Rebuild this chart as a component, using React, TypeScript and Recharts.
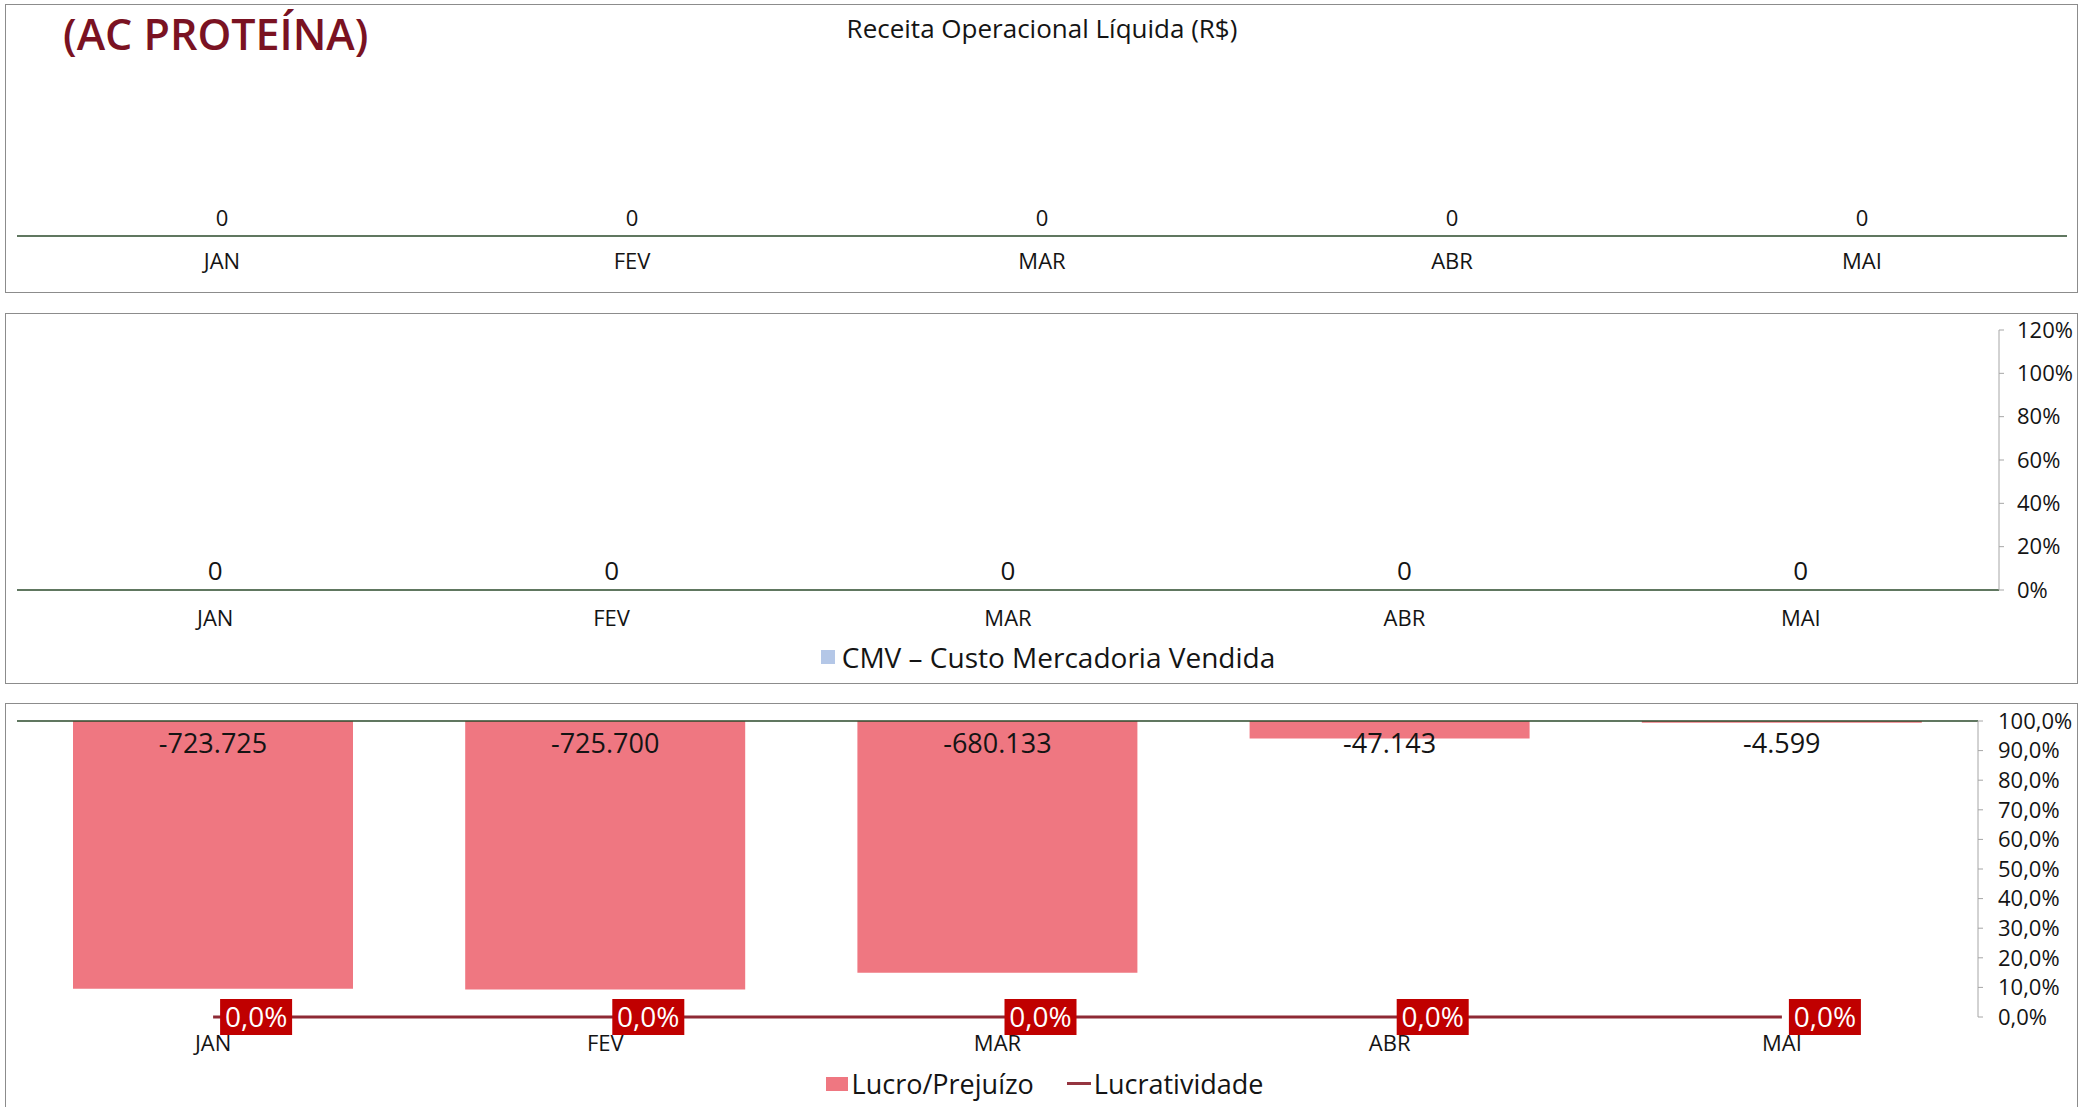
import React from 'react';
import { ComposedChart, Bar, Line, XAxis, YAxis, LabelList, Legend, ReferenceLine } from 'recharts';

const FONT = '"Open Sans", "Noto Sans", sans-serif';

// months shown in all three panels
const months: string[] = ['JAN', 'FEV', 'MAR', 'ABR', 'MAI'];

// Receita Operacional Líquida (R$)
const receita: number[] = [0, 0, 0, 0, 0];

// CMV – Custo Mercadoria Vendida
const cmv: number[] = [0, 0, 0, 0, 0];
const cmvPct: number[] = [0, 0, 0, 0, 0];
const cmvTicks: number[] = [0, 0.2, 0.4, 0.6, 0.8, 1.0, 1.2];

// Lucro/Prejuízo and Lucratividade
const lucro: number[] = [-723725, -725700, -680133, -47143, -4599];
const lucratividade: number[] = [0, 0, 0, 0, 0];
const lucTicks: number[] = [0, 0.1, 0.2, 0.3, 0.4, 0.5, 0.6, 0.7, 0.8, 0.9, 1.0];

const receitaData = months.map((m, i) => ({ mes: m, receita: receita[i] }));
const cmvData = months.map((m, i) => ({ mes: m, cmv: cmv[i], cmvPct: cmvPct[i] }));
const lucroData = months.map((m, i) => ({ mes: m, lucro: lucro[i], lucratividade: lucratividade[i] }));

const AXIS_GREEN = '#2B4A2B';
const GRAY = '#A6A6A6';
const TEXT = '#141414';

const fmtThousands = (v: number) => {
    const s = Math.abs(Math.round(v)).toString().replace(/\B(?=(\d{3})+(?!\d))/g, '.');
    return (v < 0 ? '-' : '') + s;
};
const fmtPct0 = (v: number) => `${Math.round(v * 100)}%`;
const fmtPct1 = (v: number) => (v * 100).toFixed(1).replace('.', ',') + '%';

const BarValueLabel = (props: any) => {
    const { x, y, width, height, value } = props;
    const top = Math.min(y, y + height);
    return (
        <text x={x + width / 2} y={top + 32} textAnchor="middle" fontSize={27} fontFamily={FONT} fill={TEXT}>
            {fmtThousands(value)}
        </text>
    );
};

// zero values sit on the axis, label drawn just above the point
const zeroLabel = (size: number) => (props: any) => {
    const { x, y, value } = props;
    return (
        <text x={x} y={y - 10} textAnchor="middle" fontSize={size} fontFamily={FONT} fill={TEXT}>
            {fmtThousands(value ?? 0)}
        </text>
    );
};
const ReceitaLabel = zeroLabel(22);
const CmvLabel = zeroLabel(26);

const PctBoxLabel = (props: any) => {
    const { x, y, value } = props;
    return (
        <g>
            <rect x={x + 7} y={y - 18} width={72} height={36} fill="#C00000" />
            <text x={x + 43} y={y + 10} textAnchor="middle" fontSize={28} fontFamily={FONT} fill="#FFFFFF">
                {fmtPct1(value)}
            </text>
        </g>
    );
};

const legendBase: React.CSSProperties = {
    height: 50,
    display: 'flex',
    justifyContent: 'center',
    alignItems: 'flex-end',
    fontFamily: FONT,
    fontSize: 27,
    lineHeight: '26px',
    color: TEXT,
};

const CmvLegend = () => (
    <div style={{ ...legendBase, fontSize: 28, paddingLeft: 20 }}>
        <span style={{ display: 'inline-block', width: 14, height: 14, background: '#B4C7E7', marginRight: 7, marginBottom: 6 }} />
        <span>CMV – Custo Mercadoria Vendida</span>
    </div>
);

const LucroLegend = () => (
    <div style={{ ...legendBase, paddingLeft: 24 }}>
        <span style={{ display: 'inline-block', width: 22, height: 14, background: '#EF7781', marginRight: 4, marginBottom: 6 }} />
        <span>Lucro/Prejuízo</span>
        <span style={{ display: 'inline-block', width: 24, height: 3, background: '#953540', marginLeft: 33, marginRight: 3, marginBottom: 12 }} />
        <span>Lucratividade</span>
    </div>
);

const panel = (top: number, height: number): React.CSSProperties => ({
    position: 'absolute',
    left: 5,
    top,
    width: 2073,
    height,
    border: '1px solid #8C8C8C',
    boxSizing: 'border-box',
});

export default function App() {
    return (
        <div style={{ position: 'fixed', left: 0, top: 0, width: 2081, height: 1107, background: '#fff', overflow: 'hidden', fontFamily: FONT }}>
            <div style={panel(4, 289)} />
            <div style={panel(313, 371)} />
            <div style={panel(703, 420)} />

            <div style={{ position: 'absolute', left: 63, top: 5, fontSize: 43, fontWeight: 600, color: '#7A1222', lineHeight: '58px' }}>
                (AC PROTEÍNA)
            </div>
            <div style={{ position: 'absolute', left: 0, width: 2084, top: 10, textAlign: 'center', fontSize: 26, color: TEXT, lineHeight: '36px' }}>
                Receita Operacional Líquida (R$)
            </div>

            {/* Receita */}
            <div style={{ position: 'absolute', left: 0, top: 0 }}>
                <ComposedChart width={2081} height={300} data={receitaData} margin={{ top: 60, right: 14, bottom: 34, left: 17 }}>
                    <XAxis dataKey="mes" height={30} tickSize={0} tickMargin={17} tickLine={false}
                        axisLine={{ stroke: AXIS_GREEN, strokeWidth: 1.5 }}
                        tick={{ fontSize: 22, fill: TEXT, fontFamily: FONT }} />
                    <YAxis hide domain={[0, 1]} />
                    <Bar dataKey="receita" name="Receita Operacional Líquida (R$)" fill="#8FAADC" isAnimationActive={false} />
                    <Line dataKey="receita" stroke="none" dot={false} legendType="none" isAnimationActive={false}>
                        <LabelList dataKey="receita" content={ReceitaLabel} />
                    </Line>
                </ComposedChart>
            </div>

            {/* CMV */}
            <div style={{ position: 'absolute', left: 0, top: 300 }}>
                <ComposedChart width={2081} height={400} data={cmvData} margin={{ top: 30, right: 22, bottom: 30, left: 17 }}>
                    <XAxis dataKey="mes" height={30} tickSize={0} tickMargin={20} tickLine={false}
                        axisLine={{ stroke: AXIS_GREEN, strokeWidth: 1.5 }}
                        tick={{ fontSize: 22, fill: TEXT, fontFamily: FONT }} />
                    <YAxis yAxisId="left" hide domain={[0, 1]} />
                    <YAxis yAxisId="right" orientation="right" width={60} domain={[0, 1.2]} ticks={cmvTicks} interval={0}
                        tickFormatter={fmtPct0} tickSize={5} tickMargin={13}
                        axisLine={{ stroke: GRAY }} tickLine={{ stroke: GRAY }}
                        tick={{ fontSize: 22, fill: TEXT, fontFamily: FONT, textAnchor: 'start' }} />
                    <Bar yAxisId="left" dataKey="cmv" name="CMV – Custo Mercadoria Vendida" fill="#B4C7E7" isAnimationActive={false} />
                    <Line yAxisId="left" dataKey="cmv" stroke="none" dot={false} legendType="none" isAnimationActive={false}>
                        <LabelList dataKey="cmv" content={CmvLabel} />
                    </Line>
                    <Line yAxisId="right" dataKey="cmvPct" stroke="none" dot={false} legendType="none" isAnimationActive={false} />
                    <Legend verticalAlign="bottom" content={CmvLegend} />
                </ComposedChart>
            </div>

            {/* Lucro / Lucratividade */}
            <div style={{ position: 'absolute', left: 0, top: 700 }}>
                <ComposedChart width={2081} height={407} data={lucroData} margin={{ top: 21, right: 33, bottom: 10, left: 17 }}>
                    <XAxis dataKey="mes" height={30} tickSize={0} tickMargin={18} tickLine={false} axisLine={false}
                        tick={{ fontSize: 22, fill: TEXT, fontFamily: FONT }} />
                    <YAxis yAxisId="left" hide domain={[-800000, 0]} />
                    <YAxis yAxisId="right" orientation="right" width={70} domain={[0, 1]} ticks={lucTicks} interval={0}
                        tickFormatter={fmtPct1} tickSize={5} tickMargin={15}
                        axisLine={{ stroke: GRAY }} tickLine={{ stroke: GRAY }}
                        tick={{ fontSize: 22, fill: TEXT, fontFamily: FONT, textAnchor: 'start' }} />
                    <ReferenceLine yAxisId="left" y={0} stroke={AXIS_GREEN} strokeWidth={1.5} />
                    <Bar yAxisId="left" dataKey="lucro" name="Lucro/Prejuízo" fill="#EF7781" barSize={280} isAnimationActive={false}>
                        <LabelList dataKey="lucro" content={BarValueLabel} />
                    </Bar>
                    <Line yAxisId="right" dataKey="lucratividade" name="Lucratividade" stroke="#8E2A35" strokeWidth={3}
                        dot={false} isAnimationActive={false}>
                        <LabelList dataKey="lucratividade" content={PctBoxLabel} />
                    </Line>
                    <Legend verticalAlign="bottom" content={LucroLegend} />
                </ComposedChart>
            </div>
        </div>
    );
}
